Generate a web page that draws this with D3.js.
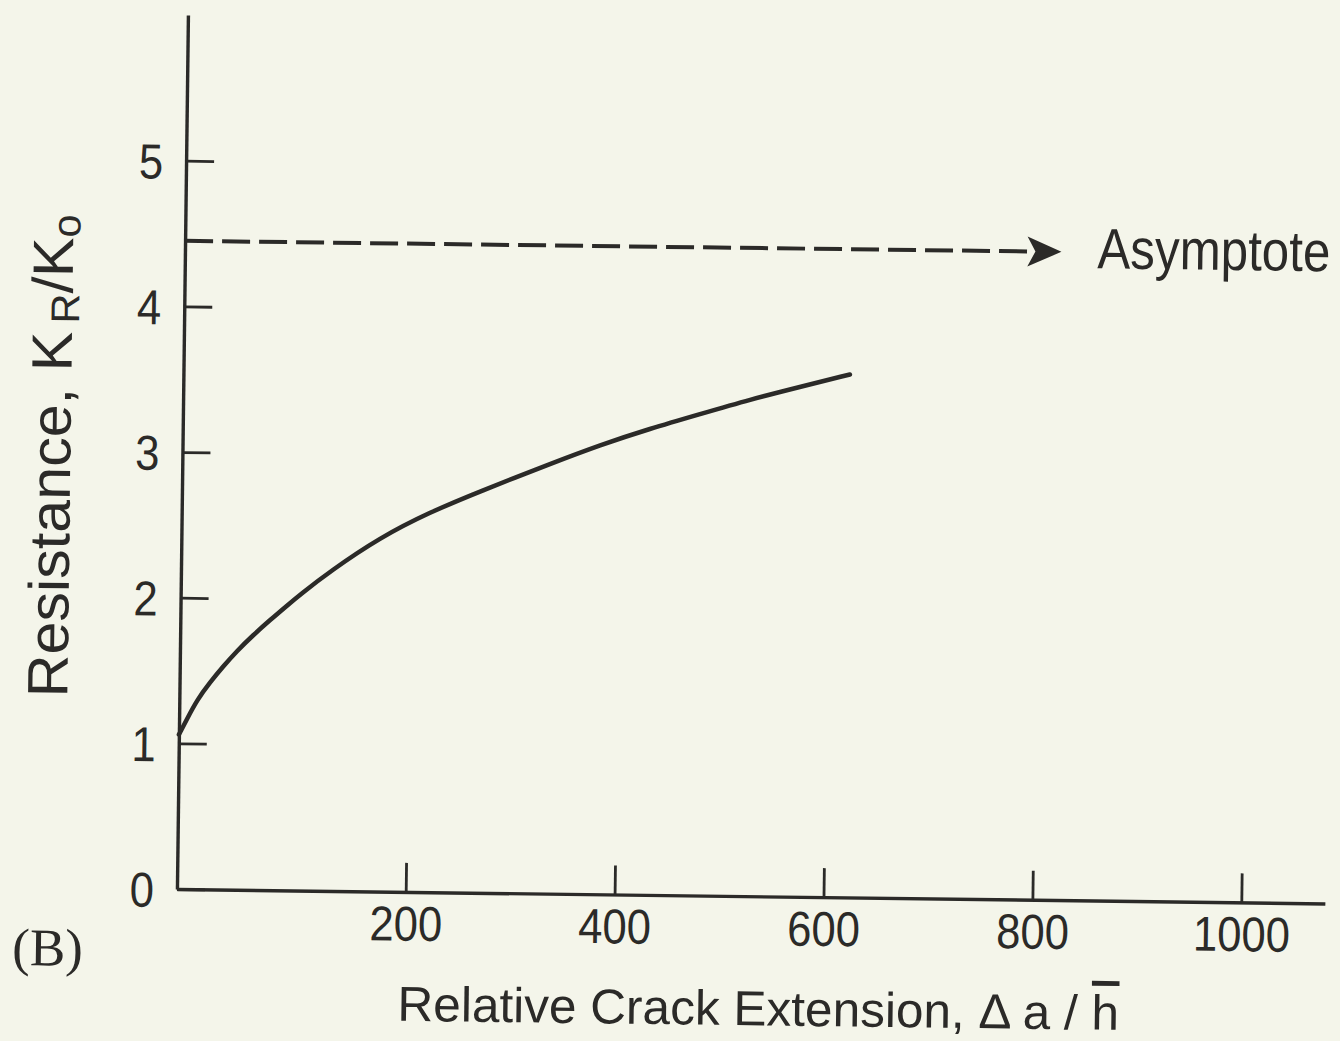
<!DOCTYPE html>
<html>
<head>
<meta charset="utf-8">
<script src="https://cdn.jsdelivr.net/npm/d3@7"></script>
<style>
  html, body { margin: 0; padding: 0; background: #f4f5ea; }
  svg { display: block; }
</style>
</head>
<body>
<div id="container-1"></div>
<script>
// R-curve (B)
const crackExt = [-19, -12, -2, 10, 23, 35, 51, 67, 83, 95, 124, 171, 219, 266, 333, 381, 428, 476, 524, 571, 619];
const resistance = [1.06, 1.16, 1.30, 1.42, 1.535, 1.635, 1.75, 1.855, 1.955, 2.03, 2.195, 2.43, 2.61, 2.755, 2.95, 3.085, 3.20, 3.305, 3.41, 3.50, 3.59];

// dashed asymptote and where its arrow ends
const asymptoteValue = 4.45;
const asymptoteEnd = 820;

const xTicks = [200, 400, 600, 800, 1000];
const yTicks = [0, 1, 2, 3, 4, 5];

const xTitle = "Relative Crack Extension, \u0394 a / ";
const xTitleBar = "h";
const asymptoteLabel = "Asymptote";
const panelLabel = "(B)";

const ink = "#2b2a28";
const sans = "'Liberation Sans', Arial, Helvetica, sans-serif";

var width = 1340;
var height = 1041;
var margin = { top: 15, right: 15, bottom: 152, left: 177 };

var svg = d3.select("#container-1")
  .append("svg")
    .attr("width", width)
    .attr("height", height);

svg.append("rect")
  .attr("width", width)
  .attr("height", height)
  .attr("fill", "#f4f5ea");

// the scan is turned a little clockwise, so the whole drawing is too
var g = svg.append("g")
  .attr("transform", "rotate(0.72, 177, 885)");

var x = d3.scaleLinear()
  .domain([-19, 1080])
  .range([margin.left, width - margin.right]);

var y = d3.scaleLinear()
  .domain([0, 6])
  .range([height - margin.bottom, margin.top]);

// squeeze a text element along its own x so it spans {target} px
function fit(sel, target, base) {
  const len = sel.node().getComputedTextLength();
  sel.attr("transform", base + " scale(" + (target / len) + ",1)");
}

// axes
var xAxis = g.append("g")
  .attr("transform", "translate(0," + y(0) + ")")
  .call(d3.axisBottom(x)
    .tickValues(xTicks)
    .tickFormat(d3.format("d"))
    .tickSizeInner(-29)
    .tickSizeOuter(0)
    .tickPadding(14));

var yAxis = g.append("g")
  .attr("transform", "translate(" + x(-19) + ",0)")
  .call(d3.axisLeft(y)
    .tickValues(yTicks)
    .tickFormat(d3.format("d"))
    .tickSizeInner(-28)
    .tickSizeOuter(0)
    .tickPadding(0));

[xAxis, yAxis].forEach(function(ax) {
  ax.select(".domain").attr("stroke", ink).attr("stroke-width", 3.4);
  ax.selectAll(".tick line").attr("stroke", ink).attr("stroke-width", 2.8);
  ax.selectAll(".tick text")
    .attr("fill", ink)
    .attr("font-family", sans)
    .attr("font-size", 49);
});

xAxis.selectAll(".tick text")
  .attr("transform", "scale(0.89,1)");

yAxis.selectAll(".tick text")
  .attr("x", -23 / 0.89)
  .attr("dy", "0.36em")
  .attr("transform", "scale(0.89,1)");

// resistance curve
var line = d3.line()
  .x(function(d, i) { return x(crackExt[i]); })
  .y(function(d) { return y(d); })
  .curve(d3.curveBasis);

g.append("path")
  .datum(resistance)
  .attr("d", line)
  .attr("fill", "none")
  .attr("stroke", ink)
  .attr("stroke-width", 4.5)
  .attr("stroke-linecap", "round");

// asymptote, dashed with a notched arrow head
var tipX = x(asymptoteEnd);
var tipY = y(asymptoteValue);

g.append("line")
  .attr("x1", x(-19))
  .attr("x2", tipX - 26)
  .attr("y1", tipY)
  .attr("y2", tipY)
  .attr("stroke", ink)
  .attr("stroke-width", 4)
  .attr("stroke-dasharray", "28,9");

g.append("path")
  .attr("transform", "translate(" + tipX + "," + tipY + ")")
  .attr("d", "M0,0 L-34,-15 L-26,0 L-34,15 Z")
  .attr("fill", ink);

var asym = g.append("text")
  .attr("fill", ink)
  .attr("font-family", sans)
  .attr("font-size", 57)
  .text(asymptoteLabel);
fit(asym, 233, "translate(" + (tipX + 36) + "," + (tipY + 16) + ")");

// axis titles
var xt = g.append("text")
  .attr("fill", ink)
  .attr("font-family", sans)
  .attr("font-size", 49)
  .attr("xml:space", "preserve");
xt.append("tspan").text(xTitle);
xt.append("tspan")
  .style("text-decoration", "overline")
  .text(xTitleBar);
fit(xt, 722, "translate(399,1018)");

var yt = g.append("text")
  .attr("fill", ink)
  .attr("font-family", sans)
  .attr("font-size", 57);
yt.append("tspan").text("Resistance, K");
yt.append("tspan").attr("font-size", 40).attr("dx", 8).attr("dy", 7).text("R");
yt.append("tspan").attr("dy", -7).text("/K");
yt.append("tspan").attr("font-size", 40).attr("dy", 7).text("o");
fit(yt, 475, "translate(65,699) rotate(-90)");

g.append("text")
  .attr("x", 13)
  .attr("y", 967)
  .attr("fill", ink)
  .attr("font-family", "'Liberation Serif', 'Times New Roman', serif")
  .attr("font-size", 53)
  .text(panelLabel);
</script>
</body>
</html>
